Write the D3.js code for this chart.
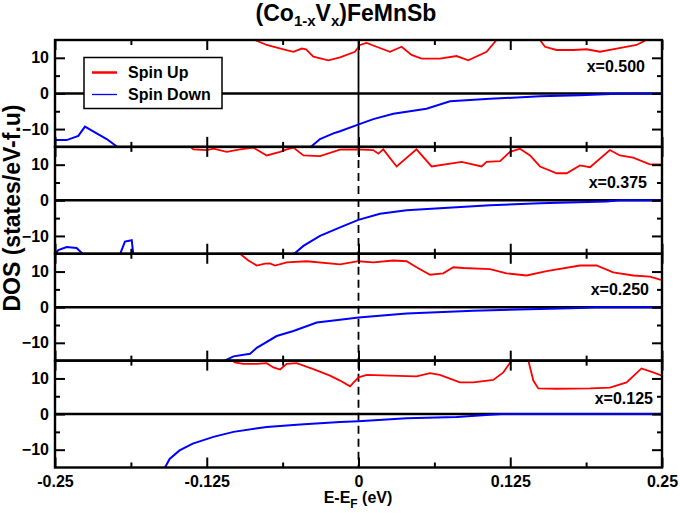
<!DOCTYPE html>
<html>
<head>
<meta charset="utf-8">
<script src="https://cdn.jsdelivr.net/npm/d3@7"></script>
<style>
  body { margin: 0; background: #fff; }
  text { font-family: "Liberation Sans", Arial, sans-serif; font-weight: bold; fill: #000; }
</style>
</head>
<body>
<svg id="chart" width="680" height="513"></svg>
<script>
// panel labels (top to bottom)
var concLabels = ["x=0.500", "x=0.375", "x=0.250", "x=0.125"];

// x axis ticks
var xMajor = [-0.25, -0.125, 0, 0.125, 0.25];
var xMinor = [-0.1875, -0.0625, 0.0625, 0.1875];
var xTickLabels = ["-0.25", "-0.125", "0", "0.125", "0.25"];
var yMajor = [-10, 0, 10];
var yMinor = [-5, 5];

// [E-EF (eV), DOS]; values past +-15 run off the panel
var up500 = [[-0.09,16.5],[-0.0853,15],[-0.0756,13.6],[-0.0618,12.4],[-0.0536,11.7],[-0.0467,12.6],[-0.0432,12.4],
  [-0.0372,10.3],[-0.0248,9.3],[-0.0152,10.1],[-0.0029,11.7],[0.0012,13.6],[0.0067,14.2],[0.0149,13.1],[0.0259,11.7],
  [0.0355,13.1],[0.0437,10.8],[0.052,9.8],[0.067,9.8],[0.0808,10.5],[0.0904,9.3],[0.1055,11.7],[0.1137,15],[0.118,17],
  [0.145,17],[0.1495,15],[0.1536,13.1],[0.1632,12.2],[0.177,12.2],[0.1879,12.4],[0.1989,11.7],[0.2126,12.6],
  [0.229,13.6],[0.2359,14.8],[0.24,16],[0.25,17]];
var dn500 = [[-0.25,-13.1],[-0.2404,-13.1],[-0.2308,-11.9],[-0.2253,-9.3],[-0.2157,-11.2],[-0.2074,-12.8],[-0.1979,-15.2],
  [-0.19,-17],[-0.045,-17],[-0.0399,-15.2],[-0.0317,-12.8],[-0.0207,-11.2],[-0.0152,-10.6],[-0.0015,-8.9],[0.0122,-7.2],
  [0.0287,-5.7],[0.056,-4.3],[0.0754,-2.2],[0.1083,-1.5],[0.1495,-0.8],[0.1824,-0.5],[0.2126,-0.1],[0.25,0]];

var up375 = [[-0.14,15.5],[-0.136,14.3],[-0.125,14.1],[-0.1195,14.5],[-0.1085,13.6],[-0.0976,14.3],[-0.0867,14.8],
  [-0.0756,12.6],[-0.0646,13.6],[-0.0591,14.3],[-0.0536,14.8],[-0.0454,12.6],[-0.0317,12.4],[-0.0152,14.2],[-0.0015,14.3],
  [0.0122,14.1],[0.0163,13.1],[0.0204,14.3],[0.0314,9.5],[0.0478,14.3],[0.0602,9.5],[0.0849,10.8],[0.1014,9.5],
  [0.1055,10.8],[0.1166,11.0],[0.1248,13.6],[0.133,14.5],[0.1413,12.6],[0.1495,9.5],[0.1632,7.6],[0.1715,7.6],
  [0.1824,9.8],[0.1907,9.3],[0.2071,14.1],[0.2153,12.6],[0.2263,12.0],[0.24,10.1],[0.25,10.1]];
var dn375 = [[-0.25,-15.2],[-0.2473,-14],[-0.2404,-13.1],[-0.2322,-13.4],[-0.2267,-15.2],[-0.222,-17],[-0.2,-17],
  [-0.1965,-15.2],[-0.1924,-11.6],[-0.1868,-11.2],[-0.1855,-15.2],[-0.18,-17],[-0.058,-17],[-0.0536,-15.2],
  [-0.0454,-12.8],[-0.0317,-10.0],[-0.0152,-7.6],[-0.0001,-5.5],[0.0177,-3.8],[0.0396,-2.8],[0.067,-2.2],
  [0.1083,-1.4],[0.1495,-0.8],[0.2044,-0.3],[0.215,0],[0.25,0]];

var up250 = [[-0.1,16],[-0.0976,15],[-0.0907,13.1],[-0.0838,11.7],[-0.077,12.2],[-0.0729,12.3],[-0.0688,11.7],
  [-0.0591,12.6],[-0.0427,12.9],[-0.0152,12.0],[0,12.9],[0.0122,12.6],[0.0287,13.1],[0.0396,12.9],[0.0478,11.2],
  [0.0589,9.1],[0.0698,9.5],[0.0781,11.2],[0.0863,11.0],[0.1083,10.7],[0.122,9.5],[0.1385,8.9],[0.155,10.1],
  [0.1824,11.7],[0.1961,11.7],[0.2098,9.8],[0.2263,8.9],[0.24,8.6],[0.25,7.6]];
var dn250 = [[-0.115,-17],[-0.1113,-15.2],[-0.103,-13.8],[-0.0893,-13.1],[-0.0838,-11.4],[-0.0674,-8.1],[-0.0536,-6.7],
  [-0.0344,-4.3],[-0.0152,-3.5],[0,-2.9],[0.0396,-1.8],[0.0945,-1.0],[0.1495,-0.5],[0.1824,-0.2],[0.195,0],[0.25,0]];

var up125 = [[-0.108,16],[-0.1018,14.5],[-0.095,14.1],[-0.0838,14.1],[-0.0756,14.3],[-0.0701,13.1],[-0.0646,12.5],
  [-0.0591,14.1],[-0.0509,14.3],[-0.0372,12.6],[-0.0235,10.8],[-0.0152,9.4],[-0.007,7.8],[0,10.3],[0.0069,11.0],
  [0.0259,10.8],[0.0478,10.6],[0.0589,11.5],[0.067,11.0],[0.0835,8.9],[0.0945,8.9],[0.111,9.6],[0.1193,11.7],
  [0.126,15],[0.129,18],[0.137,18],[0.1399,15],[0.144,9.4],[0.1481,7.2],[0.1632,7.1],[0.1907,7.2],[0.2071,7.4],
  [0.2208,8.9],[0.2331,12.8],[0.2427,11.7],[0.25,10.8]];
var dn125 = [[-0.162,-17],[-0.1597,-15.2],[-0.1556,-12.6],[-0.1474,-10.2],[-0.1365,-8.3],[-0.1195,-6.4],[-0.103,-5.0],
  [-0.0756,-3.6],[-0.048,-2.9],[-0.0152,-2.2],[0,-2.0],[0.0396,-1.2],[0.0808,-0.8],[0.1083,-0.2],[0.118,0],[0.25,0]];

var upSeries = [up500, up375, up250, up125];
var dnSeries = [dn500, dn375, dn250, dn125];

var svg = d3.select("#chart");

var left = 55, right = 662, top0 = 40, bottom = 467.5;
var panelH = (bottom - top0) / 4;

var xScale = d3.scaleLinear().domain([-0.25, 0.25]).range([left, right]);

// label placement per panel (x in px from right edge, y in data units)
var labelPos = [[645, 7.7], [647, 5], [649, 5], [653, 4.4]];

upSeries.forEach(function(up, i) {
    var top = top0 + i * panelH;
    var yScale = d3.scaleLinear().domain([-15, 15]).range([top + panelH, top]);

    var line = d3.line()
        .x(function(d) { return xScale(d[0]); })
        .y(function(d) { return yScale(d[1]); });

    var g = svg.append("g");

    svg.append("clipPath").attr("id", "clip" + i)
      .append("rect")
        .attr("x", left).attr("y", top)
        .attr("width", right - left).attr("height", panelH);

    // zero line
    g.append("line")
        .attr("x1", left).attr("x2", right)
        .attr("y1", yScale(0)).attr("y2", yScale(0))
        .attr("stroke", "#000").attr("stroke-width", 2.5);

    // Fermi level
    g.append("line")
        .attr("x1", xScale(0)).attr("x2", xScale(0))
        .attr("y1", top).attr("y2", top + panelH)
        .attr("stroke", "#000").attr("stroke-width", 1.8)
        .attr("stroke-dasharray", i == 0 ? null : "8,5");

    var data = g.append("g").attr("clip-path", "url(#clip" + i + ")");
    data.append("path").datum(up)
        .attr("fill", "none").attr("stroke", "#ff0000")
        .attr("stroke-width", 1.8).attr("d", line);
    data.append("path").datum(dnSeries[i])
        .attr("fill", "none").attr("stroke", "#0000ff")
        .attr("stroke-width", 2).attr("d", line);

    // inward ticks on all four sides
    function ticks(axis, vals, size, tr) {
        g.append("g").attr("transform", tr)
            .call(axis.tickValues(vals).tickSize(size).tickFormat(""))
            .call(function(s) { s.select(".domain").remove(); s.selectAll("line").attr("stroke-width", 2); });
    }
    ticks(d3.axisBottom(xScale), xMajor, 10, "translate(0," + top + ")");
    ticks(d3.axisBottom(xScale), xMinor, 5, "translate(0," + top + ")");
    ticks(d3.axisTop(xScale), xMajor, 10, "translate(0," + (top + panelH) + ")");
    ticks(d3.axisTop(xScale), xMinor, 5, "translate(0," + (top + panelH) + ")");
    ticks(d3.axisRight(yScale), yMajor, 10, "translate(" + left + ",0)");
    ticks(d3.axisRight(yScale), yMinor, 5, "translate(" + left + ",0)");
    ticks(d3.axisLeft(yScale), yMajor, 10, "translate(" + right + ",0)");
    ticks(d3.axisLeft(yScale), yMinor, 5, "translate(" + right + ",0)");

    // y tick labels
    g.append("g").attr("transform", "translate(" + left + ",0)")
        .call(d3.axisLeft(yScale).tickValues(yMajor).tickSize(0).tickPadding(6))
        .call(function(s) { s.select(".domain").remove(); })
        .selectAll("text").attr("font-size", 16).attr("font-family", null);

    // frame
    g.append("rect")
        .attr("x", left).attr("y", top)
        .attr("width", right - left).attr("height", panelH)
        .attr("fill", "none").attr("stroke", "#000").attr("stroke-width", 2.4);

    g.append("text")
        .attr("x", labelPos[i][0]).attr("y", yScale(labelPos[i][1]))
        .attr("dy", "0.35em")
        .attr("text-anchor", "end")
        .attr("font-size", 16)
        .text(concLabels[i]);
});

// x tick labels under the bottom panel
svg.append("g").attr("transform", "translate(0," + bottom + ")")
    .call(d3.axisBottom(xScale).tickValues(xMajor).tickSize(0).tickPadding(8)
        .tickFormat(function(d, i) { return xTickLabels[i]; }))
    .call(function(s) { s.select(".domain").remove(); })
    .selectAll("text").attr("font-size", 16).attr("font-family", null);

// title
var title = svg.append("text").attr("x", 346).attr("y", 21)
    .attr("text-anchor", "middle").attr("font-size", 23);
title.append("tspan").text("(Co");
title.append("tspan").attr("dy", 5).attr("font-size", 15).text("1-x");
title.append("tspan").attr("dy", -5).text("V");
title.append("tspan").attr("dy", 5).attr("font-size", 15).text("x");
title.append("tspan").attr("dy", -5).text(")FeMnSb");

// x axis title
var xt = svg.append("text").attr("x", 358).attr("y", 503)
    .attr("text-anchor", "middle").attr("font-size", 16);
xt.append("tspan").text("E-E");
xt.append("tspan").attr("dy", 5).attr("font-size", 12).text("F");
xt.append("tspan").attr("dy", -5).text(" (eV)");

// y axis title
svg.append("text")
    .attr("transform", "translate(20,208) rotate(-90)")
    .attr("text-anchor", "middle")
    .attr("font-size", 23)
    .text("DOS (states/eV-f.u)");

// legend
var legend = svg.append("g");
legend.append("rect")
    .attr("x", 84).attr("y", 57.5).attr("width", 138).attr("height", 51)
    .attr("fill", "#fff").attr("stroke", "#000").attr("stroke-width", 1.5);
var legItems = [["Spin Up", "#ff0000", 2.5], ["Spin Down", "#0000ff", 1.3]];
legItems.forEach(function(d, i) {
    var yy = 72.5 + i * 22;
    legend.append("line")
        .attr("x1", 92).attr("x2", 117).attr("y1", yy).attr("y2", yy)
        .attr("stroke", d[1]).attr("stroke-width", d[2]);
    legend.append("text")
        .attr("x", 128).attr("y", yy).attr("dy", "0.35em")
        .attr("font-size", 16)
        .text(d[0]);
});
</script>
</body>
</html>
